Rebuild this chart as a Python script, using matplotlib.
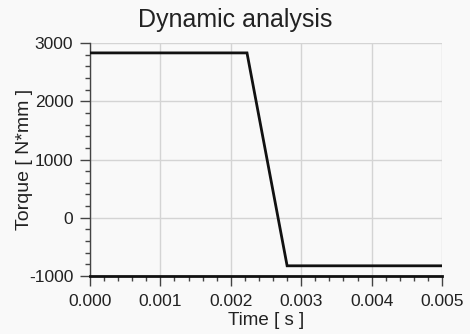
import matplotlib
matplotlib.use("Agg")
import matplotlib.pyplot as plt
from matplotlib.ticker import MultipleLocator, FormatStrFormatter

time_s = [0.0, 0.00223, 0.0028, 0.005]
torque_nmm = [2830, 2830, -825, -825]
x_ticks = [0.000, 0.001, 0.002, 0.003, 0.004, 0.005]
y_ticks = [-1000, 0, 1000, 2000, 3000]

plt.rcParams['font.family'] = ['Liberation Sans', 'DejaVu Sans']
plt.rcParams['axes.unicode_minus'] = False
bg = '#f9f9f9'
fig = plt.figure(figsize=(4.7, 3.34), dpi=100, facecolor=bg)
ax = fig.add_axes([90/470, 1-276/334, 352/470, 233/334], facecolor=bg)

ax.plot(time_s, torque_nmm, color='#111111', lw=2.0, solid_joinstyle='miter', zorder=3)
ax.set_xlim(0, 0.005)
ax.set_ylim(-1000, 3000)
ax.set_xticks(x_ticks)
ax.set_yticks(y_ticks)
ax.xaxis.set_major_formatter(FormatStrFormatter('%.3f'))
ax.xaxis.set_minor_locator(MultipleLocator(0.0002))
ax.yaxis.set_minor_locator(MultipleLocator(200))
ax.grid(True, which='major', color='#d4d4d4', lw=1.0)
for s in ['top', 'right']:
    ax.spines[s].set_visible(False)
ax.spines['left'].set_color('#444444')
ax.spines['left'].set_linewidth(1.0)
ax.spines['bottom'].set_color('#111111')
ax.spines['bottom'].set_linewidth(2.0)
ax.tick_params(axis='both', which='major', length=7, width=1, color='#444444', labelsize=12.5, labelcolor='#222222')
ax.tick_params(axis='y', which='major', pad=5)
ax.tick_params(axis='x', which='major', pad=6)
ax.tick_params(which='minor', length=3.6, width=1, color='#444444')
fig.text(0.5, 1-27/334, 'Dynamic analysis', fontsize=18, color='#222222', ha='center', va='baseline')
ax.set_xlabel('Time [ s ]', fontsize=13.5, color='#222222', labelpad=2)
ax.set_ylabel('Torque [ N*mm ]', fontsize=14, color='#222222', labelpad=-3)
fig.savefig('out.png', dpi=100, facecolor=bg)
